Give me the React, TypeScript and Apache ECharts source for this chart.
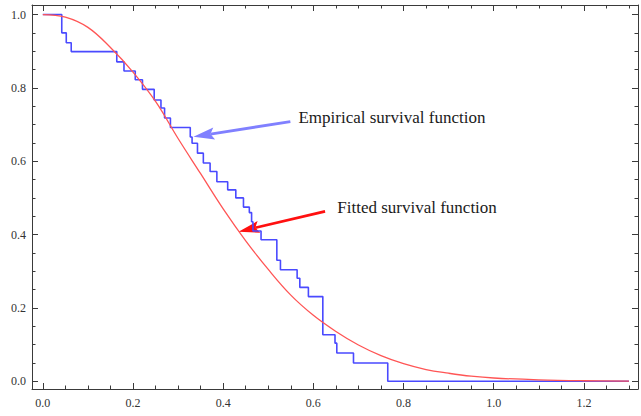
import React, { useEffect, useRef } from "react";
import * as echarts from "echarts";

// Empirical (Kaplan-Meier style) survival function: value after each drop
const empiricalX = [0, 0.042, 0.052, 0.063, 0.164, 0.18, 0.205, 0.221, 0.247, 0.262, 0.27, 0.283, 0.327, 0.331, 0.343, 0.356, 0.371, 0.386, 0.41, 0.428, 0.445, 0.458, 0.463, 0.466, 0.484, 0.519, 0.527, 0.564, 0.57, 0.589, 0.621, 0.648, 0.652, 0.689, 0.765, 1.3];
const empiricalY = [1.0, 0.95, 0.923, 0.899, 0.871, 0.846, 0.822, 0.796, 0.767, 0.745, 0.718, 0.692, 0.666, 0.649, 0.622, 0.595, 0.572, 0.544, 0.522, 0.5, 0.475, 0.46, 0.435, 0.41, 0.386, 0.33, 0.304, 0.281, 0.256, 0.231, 0.127, 0.104, 0.077, 0.05, 0, 0];

// Fitted survival function
const fittedX = [0, 0.05, 0.1, 0.15, 0.2, 0.25, 0.3, 0.35, 0.4, 0.45, 0.5, 0.55, 0.6, 0.65, 0.7, 0.75, 0.8, 0.85, 0.9, 0.95, 1.0, 1.1, 1.2, 1.3];
const fittedY = [1.0, 0.993, 0.965, 0.91, 0.843, 0.763, 0.662, 0.566, 0.47, 0.383, 0.305, 0.235, 0.18, 0.136, 0.099, 0.07, 0.048, 0.032, 0.022, 0.014, 0.009, 0.004, 0.0015, 0.0005];

// Tick values
const xMajorTicks = [0, 0.2, 0.4, 0.6, 0.8, 1.0, 1.2];
const xMinorTicks = [0.05, 0.1, 0.15, 0.25, 0.3, 0.35, 0.45, 0.5, 0.55, 0.65, 0.7, 0.75, 0.85, 0.9, 0.95, 1.05, 1.1, 1.15, 1.25, 1.3];
const yMajorTicks = [0, 0.2, 0.4, 0.6, 0.8, 1.0];
const yMinorTicks = [0.05, 0.1, 0.15, 0.25, 0.3, 0.35, 0.45, 0.5, 0.55, 0.65, 0.7, 0.75, 0.85, 0.9, 0.95];

// Annotations (data coordinates)
const annotationTexts = ["Empirical survival function", "Fitted survival function"];
const annotationTextAt = [[0.567, 0.719], [0.653, 0.474]];
const arrowFrom = [[0.549, 0.708], [0.626, 0.463]];
const arrowTo = [[0.334, 0.667], [0.434, 0.408]];
const arrowColors = ["#8080ff", "#ff1010"];

const X_MIN = -0.024;
const X_MAX = 1.32;
const Y_MIN = -0.021;
const Y_MAX = 1.026;

const FRAME = "#3a3a3a";
const LABEL = "#333";
const FONT = "Liberation Serif";

export default function App() {
  const ref = useRef<HTMLDivElement>(null);

  useEffect(() => {
    const el = ref.current!;
    const chart = echarts.init(el, null, { renderer: "svg" });

    const mkX = (position: string, ticks: number[], len: number, showLine: boolean, showLabel: boolean) => ({
      type: "value",
      gridIndex: 0,
      position,
      min: X_MIN,
      max: X_MAX,
      splitLine: { show: false },
      axisLine: { show: showLine, onZero: false, lineStyle: { color: FRAME, width: 1 } },
      axisTick: { show: true, inside: true, length: len, customValues: ticks, lineStyle: { color: FRAME, width: 1 } },
      axisLabel: {
        show: showLabel,
        customValues: ticks,
        formatter: (v: number) => v.toFixed(1),
        color: LABEL,
        fontFamily: FONT,
        fontSize: 12,
        margin: 8,
      },
    });
    const mkY = (position: string, ticks: number[], len: number, showLine: boolean, showLabel: boolean) => ({
      type: "value",
      gridIndex: 0,
      position,
      min: Y_MIN,
      max: Y_MAX,
      splitLine: { show: false },
      axisLine: { show: showLine, onZero: false, lineStyle: { color: FRAME, width: 1 } },
      axisTick: { show: true, inside: true, length: len, customValues: ticks, lineStyle: { color: FRAME, width: 1 } },
      axisLabel: {
        show: showLabel,
        customValues: ticks,
        formatter: (v: number) => v.toFixed(1),
        color: LABEL,
        fontFamily: FONT,
        fontSize: 12,
        margin: 6,
      },
    });

    chart.setOption({
      animation: false,
      backgroundColor: "#ffffff",
      grid: { left: 32, right: 3, top: 5, bottom: 27, containLabel: false, outerBoundsMode: "none" },
      xAxis: [
        mkX("bottom", xMajorTicks, 6, true, true),
        mkX("bottom", xMinorTicks, 3.5, false, false),
        mkX("top", xMajorTicks, 6, true, false),
        mkX("top", xMinorTicks, 3.5, false, false),
      ],
      yAxis: [
        mkY("left", yMajorTicks, 6, true, true),
        mkY("left", yMinorTicks, 3.5, false, false),
        mkY("right", yMajorTicks, 6, true, false),
        mkY("right", yMinorTicks, 3.5, false, false),
      ],
      series: [
        {
          type: "line",
          name: "Empirical",
          xAxisIndex: 0,
          yAxisIndex: 0,
          step: "end",
          showSymbol: false,
          symbol: "none",
          data: empiricalX.map((x, i) => [x, empiricalY[i]]),
          lineStyle: { color: "#4a4aff", width: 1.6 },
          silent: true,
        },
        {
          type: "line",
          name: "Fitted",
          xAxisIndex: 0,
          yAxisIndex: 0,
          smooth: 0.4,
          showSymbol: false,
          symbol: "none",
          data: fittedX.map((x, i) => [x, fittedY[i]]),
          lineStyle: { color: "#ff5555", width: 1.3 },
          silent: true,
        },
      ],
    });

    const toPx = (p: number[]) => chart.convertToPixel({ seriesIndex: 0 }, p) as number[];
    const graphics: any[] = [];
    for (let i = 0; i < arrowFrom.length; i++) {
      const s = toPx(arrowFrom[i]);
      const t = toPx(arrowTo[i]);
      const dx = t[0] - s[0];
      const dy = t[1] - s[1];
      const len = Math.sqrt(dx * dx + dy * dy);
      const ux = dx / len;
      const uy = dy / len;
      const nx = -uy;
      const ny = ux;
      const L = 21;
      const W = 12;
      const bx = t[0] - ux * L;
      const by = t[1] - uy * L;
      const notchX = t[0] - ux * L * 0.82;
      const notchY = t[1] - uy * L * 0.82;
      graphics.push({
        type: "line",
        silent: true,
        shape: { x1: s[0], y1: s[1], x2: notchX, y2: notchY },
        style: { stroke: arrowColors[i], lineWidth: 2.8 },
      });
      graphics.push({
        type: "polygon",
        silent: true,
        shape: {
          points: [
            [t[0], t[1]],
            [bx + (nx * W) / 2, by + (ny * W) / 2],
            [notchX, notchY],
            [bx - (nx * W) / 2, by - (ny * W) / 2],
          ],
        },
        style: { fill: arrowColors[i] },
      });
      const tp = toPx(annotationTextAt[i]);
      graphics.push({
        type: "text",
        silent: true,
        x: tp[0],
        y: tp[1],
        style: {
          text: annotationTexts[i],
          fill: "#1a1a1a",
          fontFamily: FONT,
          fontSize: 17,
          align: "left",
          verticalAlign: "middle",
        },
      });
    }
    chart.setOption({ graphic: graphics });

    return () => chart.dispose();
  }, []);

  return (
    <div
      ref={ref}
      style={{ position: "fixed", left: 0, top: 0, width: 641, height: 416, background: "#fff" }}
    />
  );
}
